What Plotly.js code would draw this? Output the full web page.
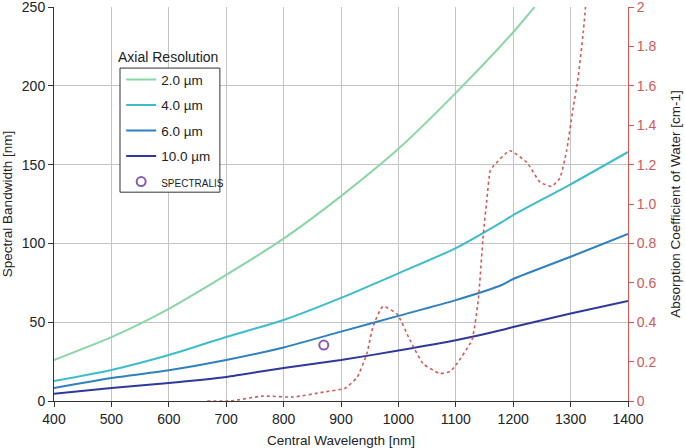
<!DOCTYPE html>
<html><head><meta charset="utf-8">
<script src="https://cdn.plot.ly/plotly-3.0.1.min.js"></script>
<style>html,body{margin:0;padding:0;background:#fff}#chart{width:685px;height:448px}</style>
</head><body><div id="chart"></div>
<script>
// Data
const wl = [400, 500, 600, 700, 800, 900, 1000, 1100, 1200, 1237];
const bw2 = [26, 40.5, 58.5, 80, 103, 130, 160, 195.5, 234, 250];
const wlLong = [400, 500, 600, 700, 800, 900, 1000, 1100, 1180, 1200, 1300, 1400];
const bw4 = [12.7, 19.7, 29.2, 40.6, 51.4, 65.4, 81, 97, 113.5, 118, 137.5, 158];
const bw6 = [8.2, 14.6, 19.5, 26, 34, 44, 54, 64, 73.6, 77.4, 91.5, 106];
const bw10 = [4.6, 8.2, 11.4, 15.2, 21, 26, 32, 38.5, 45, 47, 55.5, 63.5];
const spectralisX = [870];
const spectralisY = [35.5];
const waterX = [667, 707, 764, 816, 869, 907, 928, 945, 956, 973, 998, 1020, 1043, 1072, 1090, 1102, 1128, 1139, 1148, 1154, 1160, 1165, 1194, 1224, 1247, 1267, 1281, 1293, 1304, 1313, 1322, 1326];
const waterY = [0.0, 0.0, 0.025, 0.02, 0.045, 0.065, 0.12, 0.24, 0.38, 0.48, 0.44, 0.31, 0.19, 0.14, 0.15, 0.19, 0.31, 0.51, 0.85, 1.02, 1.17, 1.19, 1.27, 1.21, 1.11, 1.09, 1.13, 1.27, 1.48, 1.64, 1.87, 2.0];
const names = ['2.0 µm', '4.0 µm', '6.0 µm', '10.0 µm'];
const colors = ['#8ad6a6', '#3dbccb', '#2f80c0', '#2f399c'];
const leftTicks = [0, 50, 100, 150, 200, 250];
const rightTicks = [0, 0.2, 0.4, 0.6, 0.8, 1.0, 1.2, 1.4, 1.6, 1.8, 2];
const rightTickText = ['0', '0.2', '0.4', '0.6', '0.8', '1.0', '1.2', '1.4', '1.6', '1.8', '2'];
const xTicks = [400, 500, 600, 700, 800, 900, 1000, 1100, 1200, 1300, 1400];

const red = '#d05a58';
const series = [[wl, bw2], [wlLong, bw4], [wlLong, bw6], [wlLong, bw10]];
const traces = series.map((s, i) => ({
  x: s[0], y: s[1], type: 'scatter', mode: 'lines', name: names[i],
  line: {color: colors[i], width: 2, shape: 'spline', smoothing: 0.6},
  legendgroup: 'g' + i
}));
traces.push({
  x: spectralisX, y: spectralisY, type: 'scatter', mode: 'markers',
  name: '<span style="font-size:10px">SPECTRALIS</span>',
  marker: {symbol: 'circle-open', size: 9, color: '#8a5cb0', line: {width: 2, color: '#8a5cb0'}},
  legendgroup: 'g5'
});
traces.push({
  x: waterX, y: waterY, type: 'scatter', mode: 'lines', yaxis: 'y2', showlegend: false,
  line: {color: red, width: 1.6, dash: 'dot', shape: 'spline', smoothing: 0.5}
});

const font = {family: 'Liberation Sans, Arial, sans-serif', size: 14, color: '#222'};
const layout = {
  width: 685, height: 448,
  margin: {l: 54, r: 57, t: 7, b: 47},
  paper_bgcolor: '#fff', plot_bgcolor: '#fff',
  font: font,
  showlegend: true,
  legend: {
    x: 0.117, y: 0.855, xanchor: 'left', yanchor: 'top',
    bgcolor: 'rgba(0,0,0,0)', borderwidth: 0,
    font: {family: font.family, size: 13.5, color: '#222'},
    tracegroupgap: 5, traceorder: 'grouped', itemwidth: 30
  },
  shapes: [{
    type: 'rect', xref: 'paper', yref: 'paper', x0: 0.115, x1: 0.289, y0: 0.530, y1: 0.845,
    line: {color: '#333', width: 1}, fillcolor: '#fff', layer: 'above'
  }],
  xaxis: {
    range: [400, 1400], tickvals: xTicks, showgrid: true, gridcolor: '#c4c4c4', gridwidth: 1,
    showline: true, linecolor: '#333', linewidth: 1, ticks: 'outside', ticklen: 5, tickcolor: '#333',
    zeroline: false, tickfont: {size: 14}, ticklabeloverflow: 'allow',
    title: {text: 'Central Wavelength [nm]', font: {size: 13.5}, standoff: 9}
  },
  yaxis: {
    range: [0, 250], tickvals: leftTicks, showgrid: true, gridcolor: '#c4c4c4', gridwidth: 1,
    showline: true, linecolor: '#333', linewidth: 1, ticks: 'outside', ticklen: 5, tickcolor: '#333',
    zeroline: false, tickfont: {size: 14}, ticklabeloverflow: 'allow',
    title: {text: 'Spectral Bandwidth [nm]', font: {size: 13.5}, standoff: 6}
  },
  yaxis2: {
    range: [0, 2], overlaying: 'y', side: 'right', tickvals: rightTicks, ticktext: rightTickText,
    showgrid: false, zeroline: false, showline: true, linecolor: red, linewidth: 1,
    ticks: 'outside', ticklen: 5, tickcolor: red, tickfont: {size: 14, color: red}, ticklabeloverflow: 'allow',
    title: {text: 'Absorption Coefficient of Water [cm-1]', font: {size: 13.5, color: '#222'}, standoff: 15}
  },
  annotations: [{
    text: 'Axial Resolution', xref: 'paper', yref: 'paper', x: 0.108, y: 0.848,
    xanchor: 'left', yanchor: 'bottom', showarrow: false, font: {size: 14, color: '#222'}
  }]
};
Plotly.newPlot('chart', traces, layout, {displayModeBar: false, staticPlot: true});
</script></body></html>
